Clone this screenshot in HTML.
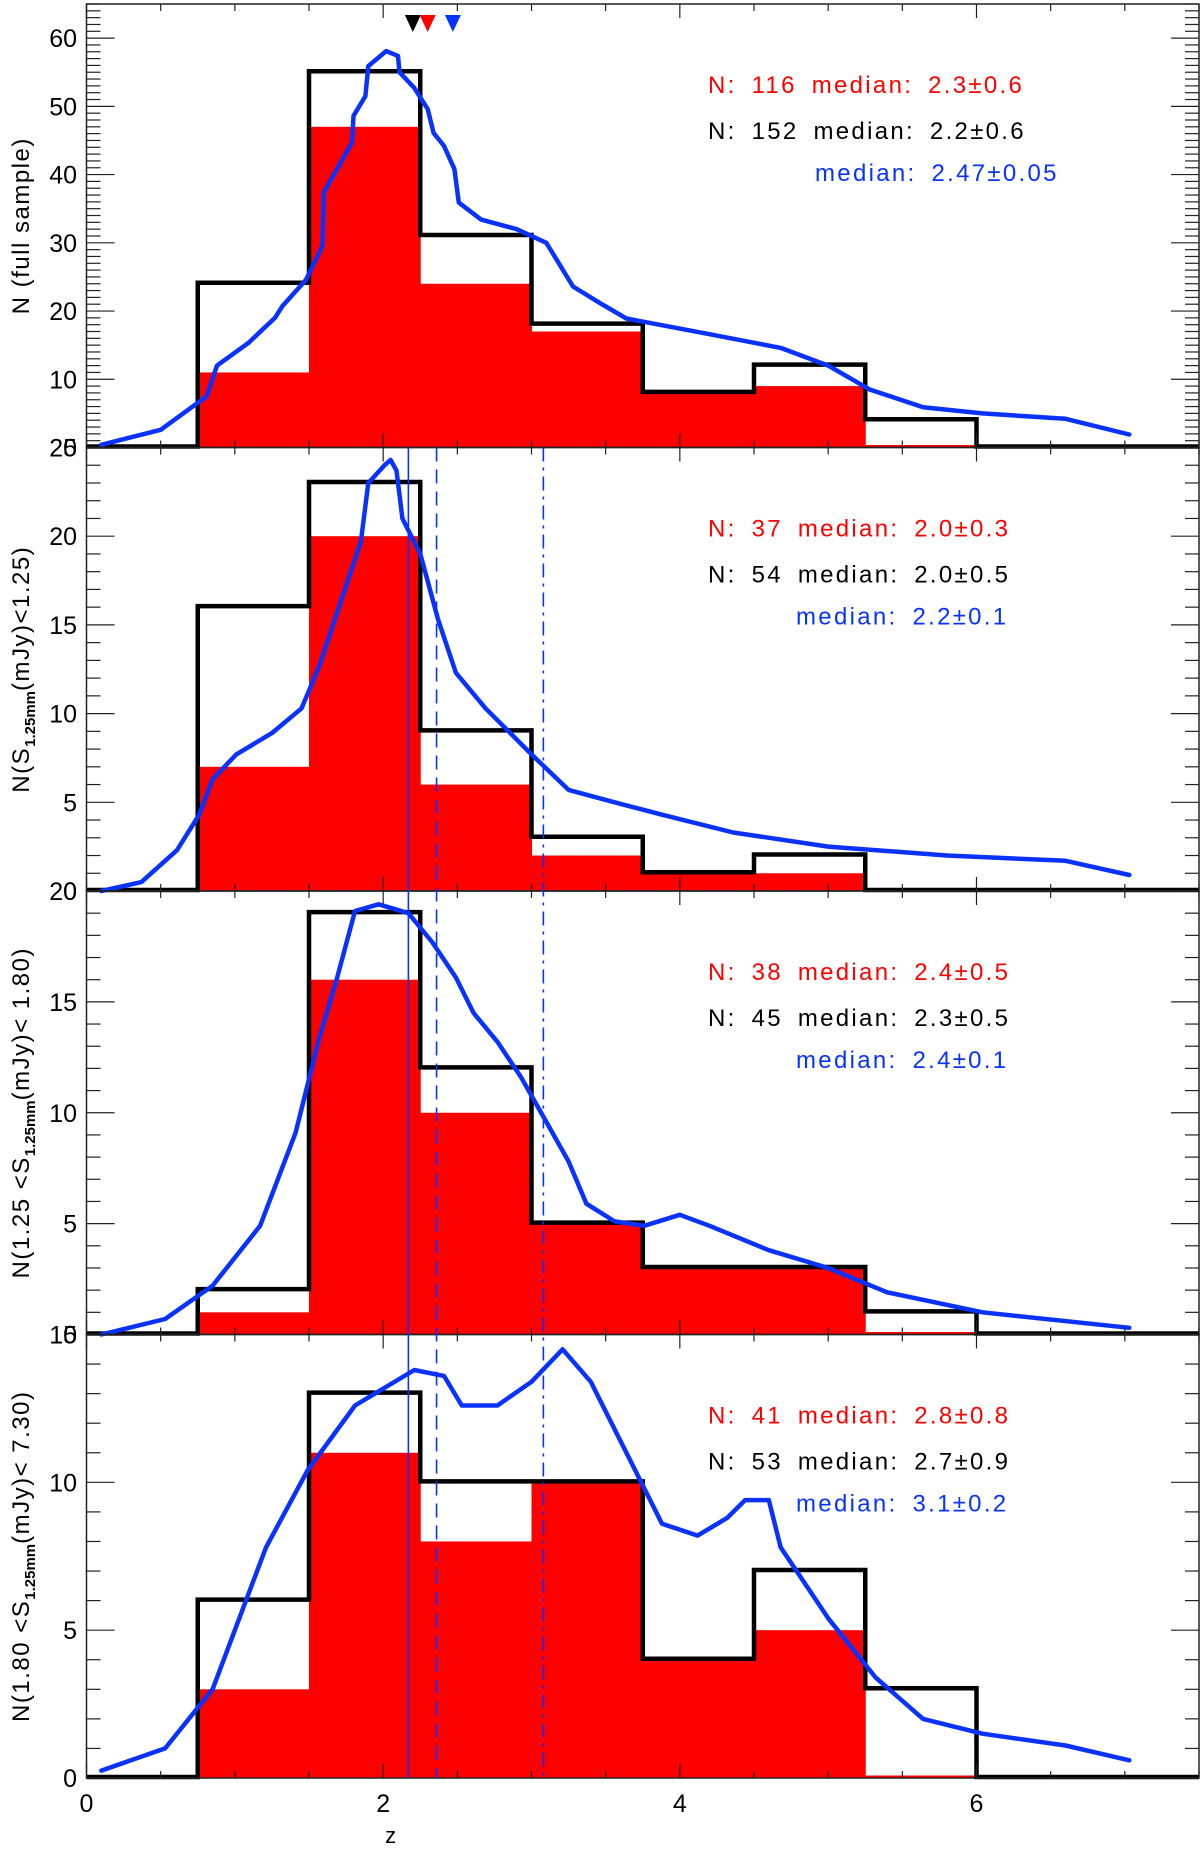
<!DOCTYPE html>
<html><head><meta charset="utf-8"><style>
html,body{margin:0;padding:0;background:#fff;}
svg{display:block;}
text{font-family:"Liberation Sans","DejaVu Sans",sans-serif;}
</style></head>
<body>
<svg id="chart" width="1200" height="1849" viewBox="0 0 1200 1849" xmlns="http://www.w3.org/2000/svg"></svg>
<script>
// ---- data ----
const binEdges = [0.75,1.5,2.25,3.0,3.75,4.5,5.25,6.0];
const blackP1 = [24,55,31,18,8,12,4];
const redP1   = [11,47,24,17,8,9,0];
const blackP2 = [16,23,9,3,1,2,0];
const redP2   = [7,20,6,2,1,1,0];
const blackP3 = [2,19,12,5,3,3,1];
const redP3   = [1,16,10,5,3,3,0];
const blackP4 = [6,13,10,10,4,7,3];
const redP4   = [3,11,8,10,4,5,0];
const curveZ1 = [0.1,0.5,0.81,0.88,1.09,1.27,1.32,1.48,1.59,1.6,1.79,1.8,1.88,1.9,2.02,2.1,2.11,2.21,2.3,2.34,2.41,2.48,2.51,2.66,2.9,3.1,3.28,3.46,3.64,4.2,4.68,5.0,5.28,5.64,6.04,6.6,7.03];
const curveN1 = [0.4,2.6,7.5,12,15.3,19,20.7,24.6,29.5,37.4,44.7,48.6,51.5,55.9,58.1,57.4,55,52.7,49.6,46.1,44.2,40.8,35.9,33.4,32,30,23.6,21.2,18.9,16.6,14.6,12,8.5,5.9,5,4.2,1.9];
const curveZ2 = [0.1,0.37,0.61,0.76,0.85,1.01,1.25,1.45,1.57,1.73,1.85,1.9,2.01,2.05,2.09,2.13,2.25,2.37,2.49,2.69,3.0,3.25,3.56,3.88,4.36,5.0,5.8,6.6,7.03];
const curveN2 = [0,0.5,2.3,4.3,6.3,7.7,8.9,10.3,12.7,16.7,19.7,23,24,24.3,23.7,21,19,15.3,12.3,10.3,7.7,5.7,5,4.3,3.3,2.5,2,1.7,0.9];
const curveZ3 = [0.1,0.53,0.85,1.17,1.41,1.57,1.69,1.81,1.97,2.17,2.33,2.49,2.61,2.77,2.93,3.09,3.25,3.37,3.56,3.76,4.0,4.2,4.6,5.0,5.4,6.04,7.03];
const curveN3 = [0,0.7,2.2,4.9,9.1,13.4,16.1,19.1,19.4,19,17.7,16.1,14.5,13.2,11.6,9.7,7.8,5.9,5.1,4.9,5.4,4.9,3.8,3.0,1.9,1.0,0.3];
const curveZ4 = [0.1,0.53,0.85,1.09,1.21,1.49,1.81,2.21,2.41,2.53,2.77,3.0,3.21,3.4,3.64,3.88,4.12,4.32,4.44,4.6,4.68,5.0,5.32,5.64,6.04,6.6,7.03];
const curveN4 = [0.25,1.0,3,6.2,7.8,10.4,12.6,13.8,13.6,12.6,12.6,13.4,14.5,13.4,11,8.6,8.2,8.8,9.4,9.4,7.8,5.4,3.4,2.0,1.5,1.1,0.6];
const yMaxes = [65,25,20,15];
const yMajorSteps = [10,5,5,5];
const yTickLabelsP1 = ["0","10","20","30","40","50","60"];
const yTickLabelsP2 = ["0","5","10","15","20","25"];
const yTickLabelsP3 = ["0","5","10","15","20"];
const yTickLabelsP4 = ["0","5","10","15"];
const xTickLabels = ["0","2","4","6"];
const xTickValues = [0,2,4,6];
const medianLines = [2.17,2.36,3.08];
const markerZ = [2.2,2.3,2.47];
const statsRed = ["N: 116  median: 2.3±0.6","N: 37  median: 2.0±0.3","N: 38  median: 2.4±0.5","N: 41  median: 2.8±0.8"];
const statsBlack = ["N: 152  median: 2.2±0.6","N: 54  median: 2.0±0.5","N: 45  median: 2.3±0.5","N: 53  median: 2.7±0.9"];
const statsBlue = ["median: 2.47±0.05","median: 2.2±0.1","median: 2.4±0.1","median: 3.1±0.2"];

const blacks=[blackP1,blackP2,blackP3,blackP4], reds=[redP1,redP2,redP3,redP4];
const cz=[curveZ1,curveZ2,curveZ3,curveZ4], cn=[curveN1,curveN2,curveN3,curveN4];
const tickLabels=[yTickLabelsP1,yTickLabelsP2,yTickLabelsP3,yTickLabelsP4];

const NS="http://www.w3.org/2000/svg";
const svg=document.getElementById('chart');
const L=86.5, XMAX=7.5, R=1199, PT0=4, PH=443.5;
const xs=z=>L+(R-L)*z/XMAX;
function mk(tag,attrs,parent){const e=document.createElementNS(NS,tag);for(const k in attrs)e.setAttribute(k,attrs[k]);(parent||svg).appendChild(e);return e;}

for(let p=0;p<4;p++){
  const top=PT0+p*PH, bot=top+PH, ym=yMaxes[p];
  const ys=v=>bot-(bot-top)*v/ym;
  const g=mk('g',{});
  
  
  for(let i=0;i<reds[p].length;i++){
    const r=mk('rect',{x:xs(binEdges[i]),y:ys(reds[p][i]),width:xs(binEdges[i+1])-xs(binEdges[i])+0.5,height:bot-ys(reds[p][i]),fill:'#ff0000'},g);
    
    
    if(reds[p][i]===0){mk('line',{x1:xs(binEdges[i]),x2:xs(binEdges[i+1]),y1:bot-1,y2:bot-1,stroke:'#ff0000','stroke-width':3},g);}
  }
  let d='M'+xs(0)+','+(bot-1)+' L'+xs(binEdges[0])+','+(bot-1);
  for(let i=0;i<blacks[p].length;i++){
    d+=' L'+xs(binEdges[i])+','+(ys(blacks[p][i])-1)+' L'+xs(binEdges[i+1])+','+(ys(blacks[p][i])-1);
  }
  d+=' L'+xs(binEdges[binEdges.length-1])+','+(bot-1)+' L'+xs(XMAX)+','+(bot-1);
  const bh=mk('path',{d:d,fill:'none',stroke:'#000','stroke-width':4.5,'stroke-linejoin':'miter'},g);
  
  
  let cd='';
  for(let i=0;i<cz[p].length;i++){cd+=(i?' L':'M')+xs(cz[p][i]).toFixed(1)+','+ys(cn[p][i]).toFixed(1);}
  const bc=mk('path',{d:cd,fill:'none',stroke:'#0a32ff','stroke-width':4.5,'stroke-linejoin':'round','stroke-linecap':'round'},g);
  
  
  mk('rect',{x:L,y:top,width:R-L,height:PH,fill:'none',stroke:'#222','stroke-width':1.5},g);
  for(let z=0;z<=XMAX+0.001;z+=0.5){
    const major=Math.abs(z/2-Math.round(z/2))<0.001, len=major?14:7;
    mk('line',{x1:xs(z),x2:xs(z),y1:bot,y2:bot-len,stroke:'#222','stroke-width':1.2},g);
    mk('line',{x1:xs(z),x2:xs(z),y1:top,y2:top+len,stroke:'#222','stroke-width':1.2},g);
  }
  for(let v=0;v<=ym;v++){
    const major=v%yMajorSteps[p]===0, len=major?28:14;
    mk('line',{x1:L,x2:L+len,y1:ys(v),y2:ys(v),stroke:'#222','stroke-width':1.2},g);
    mk('line',{x1:R,x2:R-len,y1:ys(v),y2:ys(v),stroke:'#222','stroke-width':1.2},g);
  }
  tickLabels[p].forEach((t,i)=>{
    const tx=mk('text',{x:77,y:ys(i*yMajorSteps[p])+9,'font-size':25,'text-anchor':'end',fill:'#000'},g);
    tx.textContent=t;
    
    
  });
  const st=[[statsRed[p],'#ff0000',708,89],[statsBlack[p],'#000',708,135],[statsBlue[p],'#0a32ff',p===0?815:796,177]];
  st.forEach((s,i)=>{
    const tx=mk('text',{x:s[2],y:top+s[3],'font-size':24,fill:s[1],'letter-spacing':2.3,'word-spacing':6,'xml:space':'preserve'},g);
    tx.textContent=s[0];
    
    
  });
}
const dashes=['none','14,8','14,6,3,6'];
medianLines.forEach((z,i)=>{
  const l=mk('line',{x1:xs(z),x2:xs(z),y1:PT0+PH,y2:PT0+4*PH,stroke:'#0a32ff','stroke-width':1.6,'stroke-dasharray':dashes[i]});
  
  
});
const mcol=['#000','#ff0000','#0a32ff'];
markerZ.forEach((z,i)=>{
  const x=xs(z);
  const m=mk('polygon',{points:(x-8)+',15 '+(x+8)+',15 '+x+',32',fill:mcol[i]});
  
  
});
xTickValues.forEach((z,i)=>{
  const t=mk('text',{x:xs(z),y:1812,'font-size':25,'text-anchor':'middle',fill:'#000'});
  t.textContent=xTickLabels[i];
  
  
});
const xl=mk('text',{x:xs(2.05),y:1843,'font-size':22,'text-anchor':'middle',fill:'#000'});
xl.textContent='z';


const yt=[['N (full sample)'],['N(S','1.25mm','(mJy)<1.25)'],['N(1.25 <S','1.25mm','(mJy)< 1.80)'],['N(1.80 <S','1.25mm','(mJy)< 7.30)']];
yt.forEach((parts,p)=>{
  const cy=PT0+p*PH+PH/2;
  const t=mk('text',{x:0,y:0,transform:'translate(29,'+cy+') rotate(-90)','font-size':24,'text-anchor':'middle',fill:'#000','letter-spacing':1.5,'xml:space':'preserve'});
  
  
  if(parts.length===1){t.textContent=parts[0];}
  else{
    const a=mk('tspan',{},t);a.textContent=parts[0];
    const b=mk('tspan',{'font-size':15,dy:6,'font-weight':'bold','letter-spacing':0},t);b.textContent=parts[1];
    const c=mk('tspan',{dy:-6},t);c.textContent=parts[2];
  }
});
</script>
</body></html>
